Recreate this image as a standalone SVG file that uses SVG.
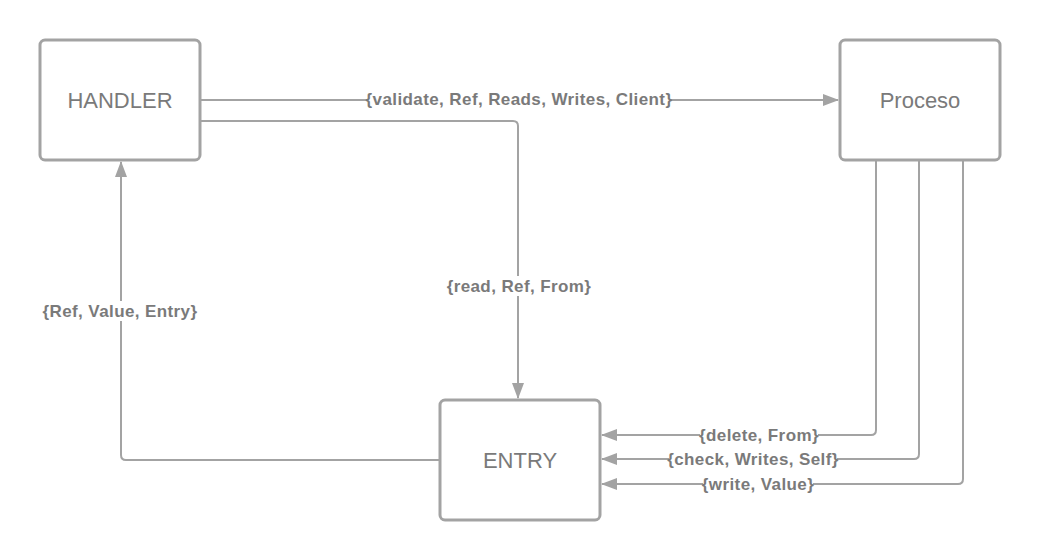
<svg xmlns="http://www.w3.org/2000/svg" width="1040" height="560" viewBox="0 0 1040 560">
<style>
.node rect{fill:#fff;stroke:#a3a3a3;stroke-width:3}
.node text{font-family:"Liberation Sans",Arial,sans-serif;font-size:22px;fill:#7a7a7a;text-anchor:middle;dominant-baseline:central}
.edge{fill:none;stroke:#a3a3a3;stroke-width:2;stroke-linejoin:round}
.lbl{font-family:"Liberation Sans",Arial,sans-serif;font-size:17px;letter-spacing:0.4px;font-weight:bold;fill:#7a7a7a;text-anchor:middle;dominant-baseline:central}
.bg{fill:#fff}
</style>
<defs>
<marker id="arr" markerWidth="16" markerHeight="12" refX="15" refY="6" orient="auto" markerUnits="userSpaceOnUse">
<path d="M0,0 L16,6 L0,12 Z" fill="#a3a3a3"/>
</marker>
</defs>
<rect width="1040" height="560" fill="#fff"/>
<g id="connectors">
<path class="edge" d="M201,100 H838" marker-end="url(#arr)"/>
<path class="edge" d="M201,121 H513 Q518,121 518,126 V398" marker-end="url(#arr)"/>
<path class="edge" d="M439,460 H126 Q121,460 121,455 V162" marker-end="url(#arr)"/>
<path class="edge" d="M876,161 V430 Q876,435 871,435 H602" marker-end="url(#arr)"/>
<path class="edge" d="M919,161 V454 Q919,459 914,459 H602" marker-end="url(#arr)"/>
<path class="edge" d="M963,161 V479 Q963,484 958,484 H602" marker-end="url(#arr)"/>
<rect class="bg" x="368" y="89" width="302" height="20"/>
<text class="lbl" x="519" y="99">{validate, Ref, Reads, Writes, Client}</text>
<rect class="bg" x="446" y="276" width="146" height="20"/>
<text class="lbl" x="519" y="286">{read, Ref, From}</text>
<rect class="bg" x="42" y="301" width="156" height="20"/>
<text class="lbl" x="120" y="311">{Ref, Value, Entry}</text>
<rect class="bg" x="700" y="425" width="118" height="20"/>
<text class="lbl" x="759" y="435">{delete, From}</text>
<rect class="bg" x="669" y="449" width="168" height="20"/>
<text class="lbl" x="753" y="459">{check, Writes, Self}</text>
<rect class="bg" x="703" y="474" width="110" height="20"/>
<text class="lbl" x="758" y="484">{write, Value}</text>
</g>
<g id="handler" class="node">
<rect x="40" y="40" width="160" height="120" rx="5"/>
<text x="120" y="100">HANDLER</text>
</g>
<g id="proceso" class="node">
<rect x="840" y="40" width="160" height="120" rx="5"/>
<text x="920" y="100">Proceso</text>
</g>
<g id="entry" class="node">
<rect x="440" y="400" width="160" height="120" rx="5"/>
<text x="520" y="460">ENTRY</text>
</g>
</svg>
